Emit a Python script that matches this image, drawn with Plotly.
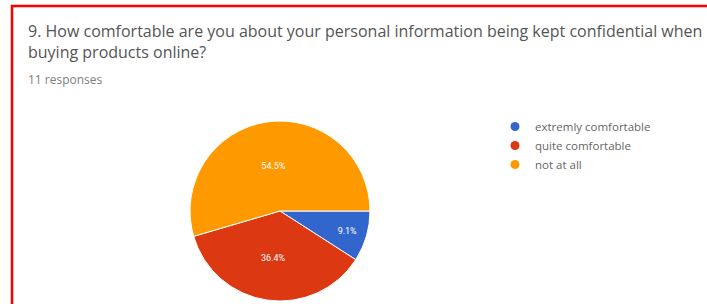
import plotly.graph_objects as go

categories = ["extremly comfortable", "quite comfortable", "not at all"]
counts = [1, 4, 6]
colors = ["#3366cc", "#dc3912", "#ff9900"]
title_line1 = "9. How comfortable are you about your personal information being kept confidential when"
title_line2 = "buying products online?"
responses_text = "11 responses"

W, H = 707, 304
cx, cy, r = 280, 211, 90

fig = go.Figure()
fig.add_trace(go.Pie(
    labels=categories, values=counts, sort=False, direction="clockwise", rotation=90,
    marker=dict(colors=colors, line=dict(color="white", width=1)),
    texttemplate="%{percent:.1%}", textposition="inside", insidetextorientation="horizontal",
    textfont=dict(color="white", size=9, family="Roboto"),
    showlegend=False, hoverinfo="label+percent",
    domain=dict(x=[(cx - r) / W, (cx + r) / W], y=[(H - cy - r) / H, (H - cy + r) / H]),
))
for name, col in zip(categories, colors):
    fig.add_trace(go.Scatter(x=[None], y=[None], mode="markers", name=name,
                             marker=dict(symbol="circle", size=9, color=col)))

title_font = dict(family="Open Sans", size=16, color="#555555")
fig.add_annotation(x=26 / W, y=1 - 31 / H, xref="paper", yref="paper", xanchor="left", yanchor="middle",
                   text=title_line1, showarrow=False, font=title_font)
fig.add_annotation(x=26 / W, y=1 - 52 / H, xref="paper", yref="paper", xanchor="left", yanchor="middle",
                   text=title_line2, showarrow=False, font=title_font)
fig.add_annotation(x=26 / W, y=1 - 80 / H, xref="paper", yref="paper", xanchor="left", yanchor="middle",
                   text=responses_text, showarrow=False, font=dict(family="Open Sans", size=12, color="#808080"))

fig.add_shape(type="rect", xref="paper", yref="paper", x0=12 / W, x1=1.05, y0=-0.05, y1=1 - 6 / H,
              line=dict(color="#ff0000", width=2.5), fillcolor="rgba(0,0,0,0)")

fig.update_layout(
    width=W, height=H, margin=dict(l=0, r=0, t=0, b=0),
    paper_bgcolor="white", plot_bgcolor="white",
    xaxis=dict(visible=False), yaxis=dict(visible=False),
    legend=dict(x=495 / W, y=1 - 112 / H, xanchor="left", yanchor="top",
                font=dict(family="Open Sans", size=11.5, color="#666666"), itemwidth=30,
                bgcolor="rgba(0,0,0,0)", tracegroupgap=0),
)
fig.write_html("out.html", config={"displayModeBar": False},
               post_script="document.body.style.margin='0';document.body.style.overflow='hidden';")
